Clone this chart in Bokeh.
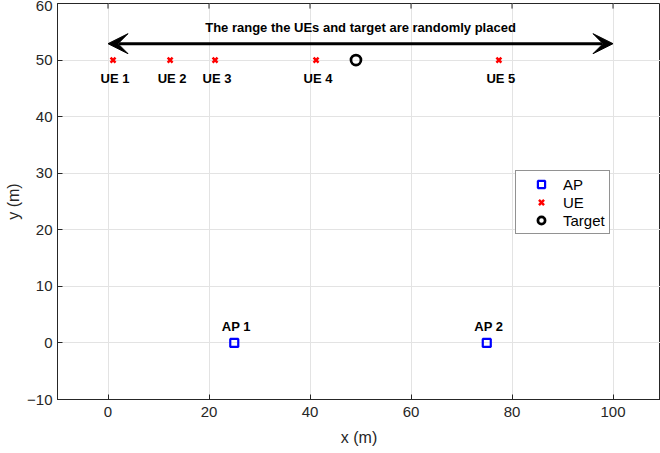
from bokeh.plotting import figure
from bokeh.models import (Range1d, FixedTicker, Legend, LegendItem, Arrow, VeeHead,
                          ColumnDataSource, Label)
from bokeh.core.properties import value
from bokeh.embed import file_html
from bokeh.resources import INLINE

# data
ue_names = ["UE 1", "UE 2", "UE 3", "UE 4", "UE 5"]
ue_x = [1.0, 12.3, 21.2, 41.2, 77.4]
ue_y = [50, 50, 50, 50, 50]
ap_names = ["AP 1", "AP 2"]
ap_x = [25, 75]
ap_y = [0, 0]
target_x = [49.1]
target_y = [50]
range_x = [0, 100]
range_y = 52.9
range_text = "The range the UEs and target are randomly placed"
x_ticks = [0, 20, 40, 60, 80, 100]
y_ticks = [-10, 0, 10, 20, 30, 40, 50, 60]

FONT = "Liberation Sans"
AX = "#262626"

p = figure(width=660, height=453, output_backend="svg", toolbar_location=None,
           x_range=Range1d(-10, 109.4), y_range=Range1d(-10, 60),
           min_border_left=57, min_border_right=0, min_border_top=3, min_border_bottom=54)
p.background_fill_color = "white"
p.outline_line_color = AX
p.outline_line_width = 1
p.outline_line_alpha = 1

bottom = p.below[0]
left = p.left[0]

for ax, ticks in ((bottom, x_ticks), (left, y_ticks)):
    ax.ticker = FixedTicker(ticks=ticks)
    ax.major_tick_in = 5
    ax.major_tick_out = 0
    ax.minor_tick_line_color = None
    ax.major_tick_line_color = AX
    ax.axis_line_color = AX
    ax.major_label_text_font = FONT
    ax.major_label_text_font_size = "15px"
    ax.major_label_text_color = AX
    ax.axis_label_text_font = FONT
    ax.axis_label_text_font_size = "16px"
    ax.axis_label_text_font_style = "normal"
    ax.axis_label_text_color = AX
bottom.axis_label = "x (m)"
left.axis_label = "y (m)"
bottom.major_label_standoff = 7
left.major_label_standoff = 5
bottom.axis_label_standoff = 9
left.axis_label_standoff = 2

p.xgrid.ticker = FixedTicker(ticks=x_ticks)
p.ygrid.ticker = FixedTicker(ticks=y_ticks)
p.grid.grid_line_color = "#e3e3e3"
p.grid.grid_line_width = 1

# tick marks along the top edge of the box (MATLAB "box on")
top_y = y_ticks[-1]
tick_len = 0.9  # data units (~5 px)
p.segment(x0=x_ticks, y0=[top_y] * len(x_ticks), x1=x_ticks,
          y1=[top_y - tick_len] * len(x_ticks), line_color=AX, line_width=1)

ap_src = ColumnDataSource(dict(x=ap_x, y=ap_y, name=ap_names))
ue_src = ColumnDataSource(dict(x=ue_x, y=ue_y, name=ue_names))

r_ap = p.scatter("x", "y", source=ap_src, marker="square", size=8,
                 fill_color=None, line_color="blue", line_width=2.2)
r_ue = p.scatter("x", "y", source=ue_src, marker="x", size=7,
                 line_color="red", line_width=2.5)
r_t = p.scatter(target_x, target_y, marker="circle", size=10,
                fill_color=None, line_color="black", line_width=2.7)

p.text("x", "y", text="name", source=ue_src, text_font=value(FONT),
       text_font_size="13px", text_font_style="bold", text_align="center",
       text_baseline="middle", y_offset=18, x_offset=2, text_color="black")
p.text("x", "y", text="name", source=ap_src, text_font=value(FONT),
       text_font_size="13px", text_font_style="bold", text_align="center",
       text_baseline="middle", y_offset=-16.5, x_offset=2, text_color="black")

p.add_layout(Arrow(x_start=range_x[0], x_end=range_x[1], y_start=range_y, y_end=range_y,
                   line_width=3, line_color="black",
                   start=VeeHead(size=20, fill_color="black", line_color="black"),
                   end=VeeHead(size=20, fill_color="black", line_color="black")))
p.add_layout(Label(x=sum(range_x) / 2, y=range_y, y_offset=16, text=range_text,
                   text_font=FONT, text_font_size="13px", text_font_style="bold",
                   text_align="center", text_baseline="middle", text_color="black"))

legend = Legend(items=[LegendItem(label="AP", renderers=[r_ap]),
                       LegendItem(label="UE", renderers=[r_ue]),
                       LegendItem(label="Target", renderers=[r_t])],
                location=(458, 165), border_line_color=AX, border_line_width=1,
                label_text_font=FONT, label_text_font_size="15px",
                label_text_color="black", glyph_width=42, glyph_height=18,
                label_height=18, spacing=0, padding=4, margin=0,
                label_standoff=1, background_fill_alpha=1)
p.add_layout(legend)

open("out.html", "w").write(file_html(p, INLINE))
